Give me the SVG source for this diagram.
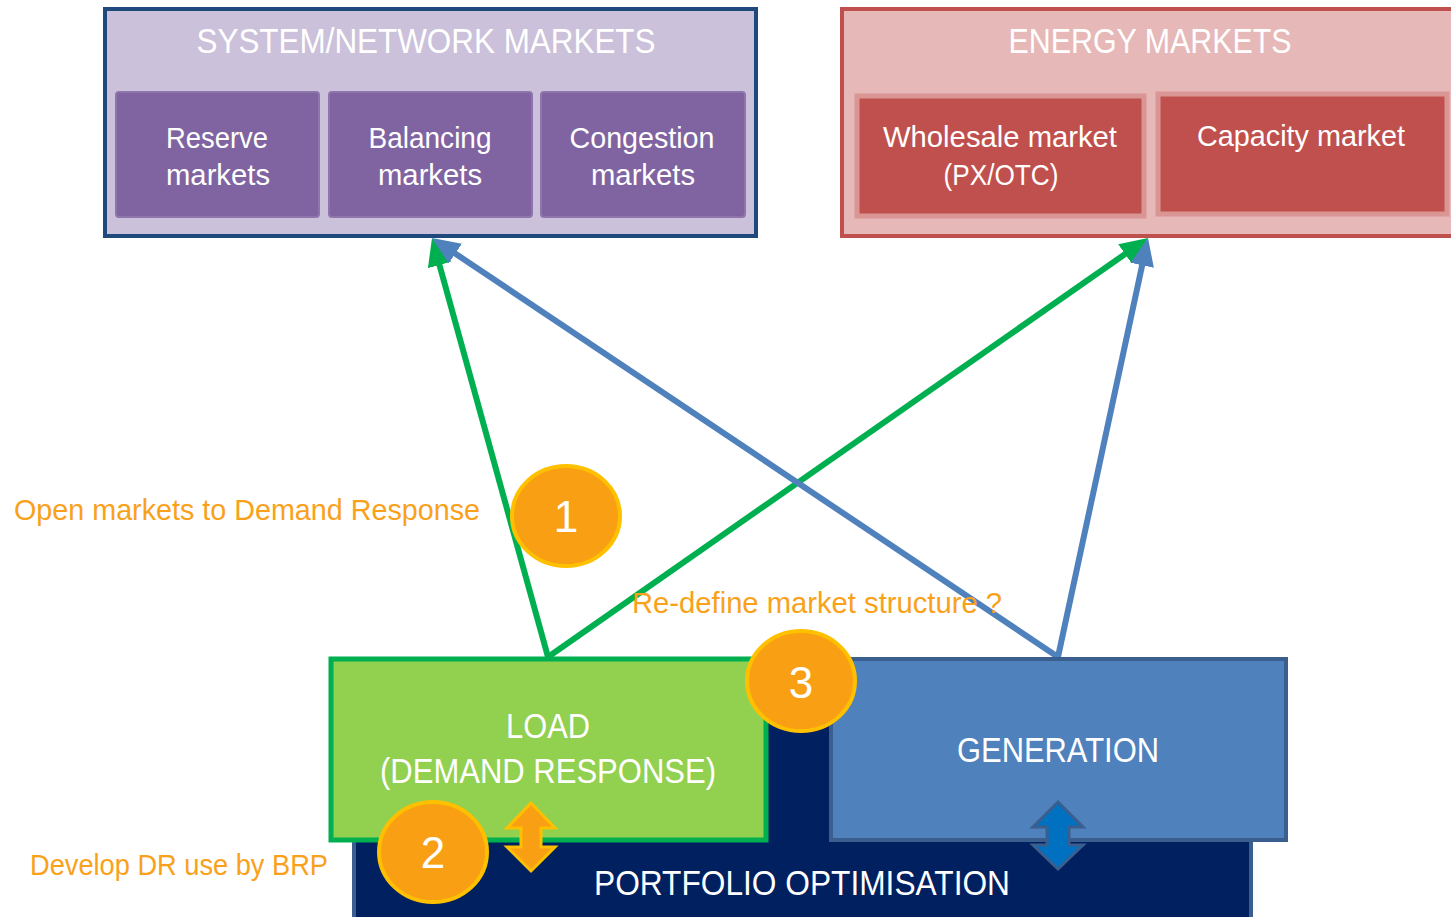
<svg xmlns="http://www.w3.org/2000/svg" width="1451" height="917" viewBox="0 0 1451 917">
<style>
.t{font-family:"Liberation Sans Narrow","Liberation Sans",Arial,sans-serif;fill:#FFFFFF;text-anchor:middle}
.o{font-family:"Liberation Sans Narrow","Liberation Sans",Arial,sans-serif;fill:#F9A11B}
.purple{fill:#8064A2;stroke:#8E76AD;stroke-width:2}
.red{fill:#C0504D;stroke:#D99694;stroke-width:5}
.circ{fill:#F99F14;stroke:#FFC000;stroke-width:4}
.g{stroke:#00B050;stroke-width:6;fill:none}
.b{stroke:#4F81BD;stroke-width:6;fill:none}
</style>
<defs>
<marker id="ag" viewBox="0 0 28 24" refX="16" refY="12" markerWidth="28" markerHeight="24" markerUnits="userSpaceOnUse" orient="auto"><path d="M0,0 L28,12 L0,24 z" fill="#00B050"/></marker>
<marker id="ab" viewBox="0 0 28 24" refX="16" refY="12" markerWidth="28" markerHeight="24" markerUnits="userSpaceOnUse" orient="auto"><path d="M0,0 L28,12 L0,24 z" fill="#4F81BD"/></marker>
</defs>
<rect width="1451" height="917" fill="#FFFFFF"/>

<g id="system-markets">
<rect x="105" y="9" width="651" height="227" fill="#CCC1DA" stroke="#1F497D" stroke-width="4"/>
<text class="t" x="426" y="53" font-size="35" textLength="459" lengthAdjust="spacingAndGlyphs">SYSTEM/NETWORK MARKETS</text>
</g>
<g id="reserve">
<rect class="purple" x="116" y="92" width="203" height="125" rx="3"/>
<text class="t" x="217" y="148" font-size="30" textLength="102" lengthAdjust="spacingAndGlyphs">Reserve</text>
<text class="t" x="218" y="185" font-size="30" textLength="104" lengthAdjust="spacingAndGlyphs">markets</text>
</g>
<g id="balancing">
<rect class="purple" x="329" y="92" width="203" height="125" rx="3"/>
<text class="t" x="430" y="148" font-size="30" textLength="123" lengthAdjust="spacingAndGlyphs">Balancing</text>
<text class="t" x="430" y="185" font-size="30" textLength="104" lengthAdjust="spacingAndGlyphs">markets</text>
</g>
<g id="congestion">
<rect class="purple" x="541" y="92" width="204" height="125" rx="3"/>
<text class="t" x="642" y="148" font-size="30" textLength="145" lengthAdjust="spacingAndGlyphs">Congestion</text>
<text class="t" x="643" y="185" font-size="30" textLength="104" lengthAdjust="spacingAndGlyphs">markets</text>
</g>

<g id="energy-markets">
<rect x="842" y="9" width="620" height="227" fill="#E6B9B8" stroke="#C0504D" stroke-width="4"/>
<text class="t" x="1150" y="53" font-size="35" textLength="283" lengthAdjust="spacingAndGlyphs">ENERGY MARKETS</text>
</g>
<g id="wholesale">
<rect class="red" x="857" y="96" width="287" height="120"/>
<text class="t" x="1000" y="147" font-size="30" textLength="234" lengthAdjust="spacingAndGlyphs">Wholesale market</text>
<text class="t" x="1001" y="185" font-size="30" textLength="115" lengthAdjust="spacingAndGlyphs">(PX/OTC)</text>
</g>
<g id="capacity">
<rect class="red" x="1158" y="94" width="289" height="120"/>
<text class="t" x="1301" y="146" font-size="30" textLength="208" lengthAdjust="spacingAndGlyphs">Capacity market</text>
</g>

<g id="connectors">
<line class="g" x1="548" y1="657" x2="435.2" y2="249.6" marker-end="url(#ag)"/>
<line class="g" x1="548" y1="657" x2="1138.2" y2="244.9" marker-end="url(#ag)"/>
<line class="b" x1="1058" y1="657" x2="442" y2="244.7" marker-end="url(#ab)"/>
<line class="b" x1="1058" y1="657" x2="1145.5" y2="249.7" marker-end="url(#ab)"/>
</g>

<g id="portfolio">
<rect x="354" y="700" width="897" height="230" fill="#002060" stroke="#3A5F8F" stroke-width="4"/>
<text class="t" x="802" y="895" font-size="35" textLength="416" lengthAdjust="spacingAndGlyphs">PORTFOLIO OPTIMISATION</text>
</g>
<g id="load">
<rect x="331" y="659" width="435" height="181" fill="#92D050" stroke="#00B050" stroke-width="5"/>
<text class="t" x="548" y="738" font-size="35" textLength="84" lengthAdjust="spacingAndGlyphs">LOAD</text>
<text class="t" x="548" y="783" font-size="35" textLength="336" lengthAdjust="spacingAndGlyphs">(DEMAND RESPONSE)</text>
</g>
<g id="generation">
<rect x="831" y="659" width="455" height="181" fill="#4F81BD" stroke="#3A5F8F" stroke-width="4"/>
<text class="t" x="1058" y="762" font-size="35" textLength="202" lengthAdjust="spacingAndGlyphs">GENERATION</text>
</g>

<g id="arrow-load">
<path d="M531,803 L555,828 L541,828 L541,847 L555,847 L531,871 L507,847 L521,847 L521,828 L507,828 Z" fill="#F99F14" stroke="#FFC000" stroke-width="3" stroke-linejoin="miter"/>
</g>
<g id="arrow-generation">
<path d="M1058,802 L1083,827 L1069,827 L1069,845 L1083,845 L1058,869 L1033,845 L1047,845 L1047,827 L1033,827 Z" fill="#0070C0" stroke="#3A5F8F" stroke-width="3"/>
</g>

<g id="badge-1">
<ellipse class="circ" cx="566" cy="516" rx="54" ry="50"/>
<text class="t" x="566" y="532" font-size="44">1</text>
</g>
<g id="badge-2">
<ellipse class="circ" cx="433" cy="852" rx="54" ry="50"/>
<text class="t" x="433" y="868" font-size="44">2</text>
</g>
<g id="badge-3">
<ellipse class="circ" cx="801" cy="681" rx="54" ry="50"/>
<text class="t" x="801" y="698" font-size="44">3</text>
</g>

<g id="labels">
<text class="o" x="14" y="520" font-size="30" textLength="466" lengthAdjust="spacingAndGlyphs">Open markets to Demand Response</text>
<text class="o" x="632" y="613" font-size="30" textLength="370" lengthAdjust="spacingAndGlyphs">Re-define market structure ?</text>
<text class="o" x="30" y="875" font-size="30" textLength="298" lengthAdjust="spacingAndGlyphs">Develop DR use by BRP</text>
</g>
</svg>
